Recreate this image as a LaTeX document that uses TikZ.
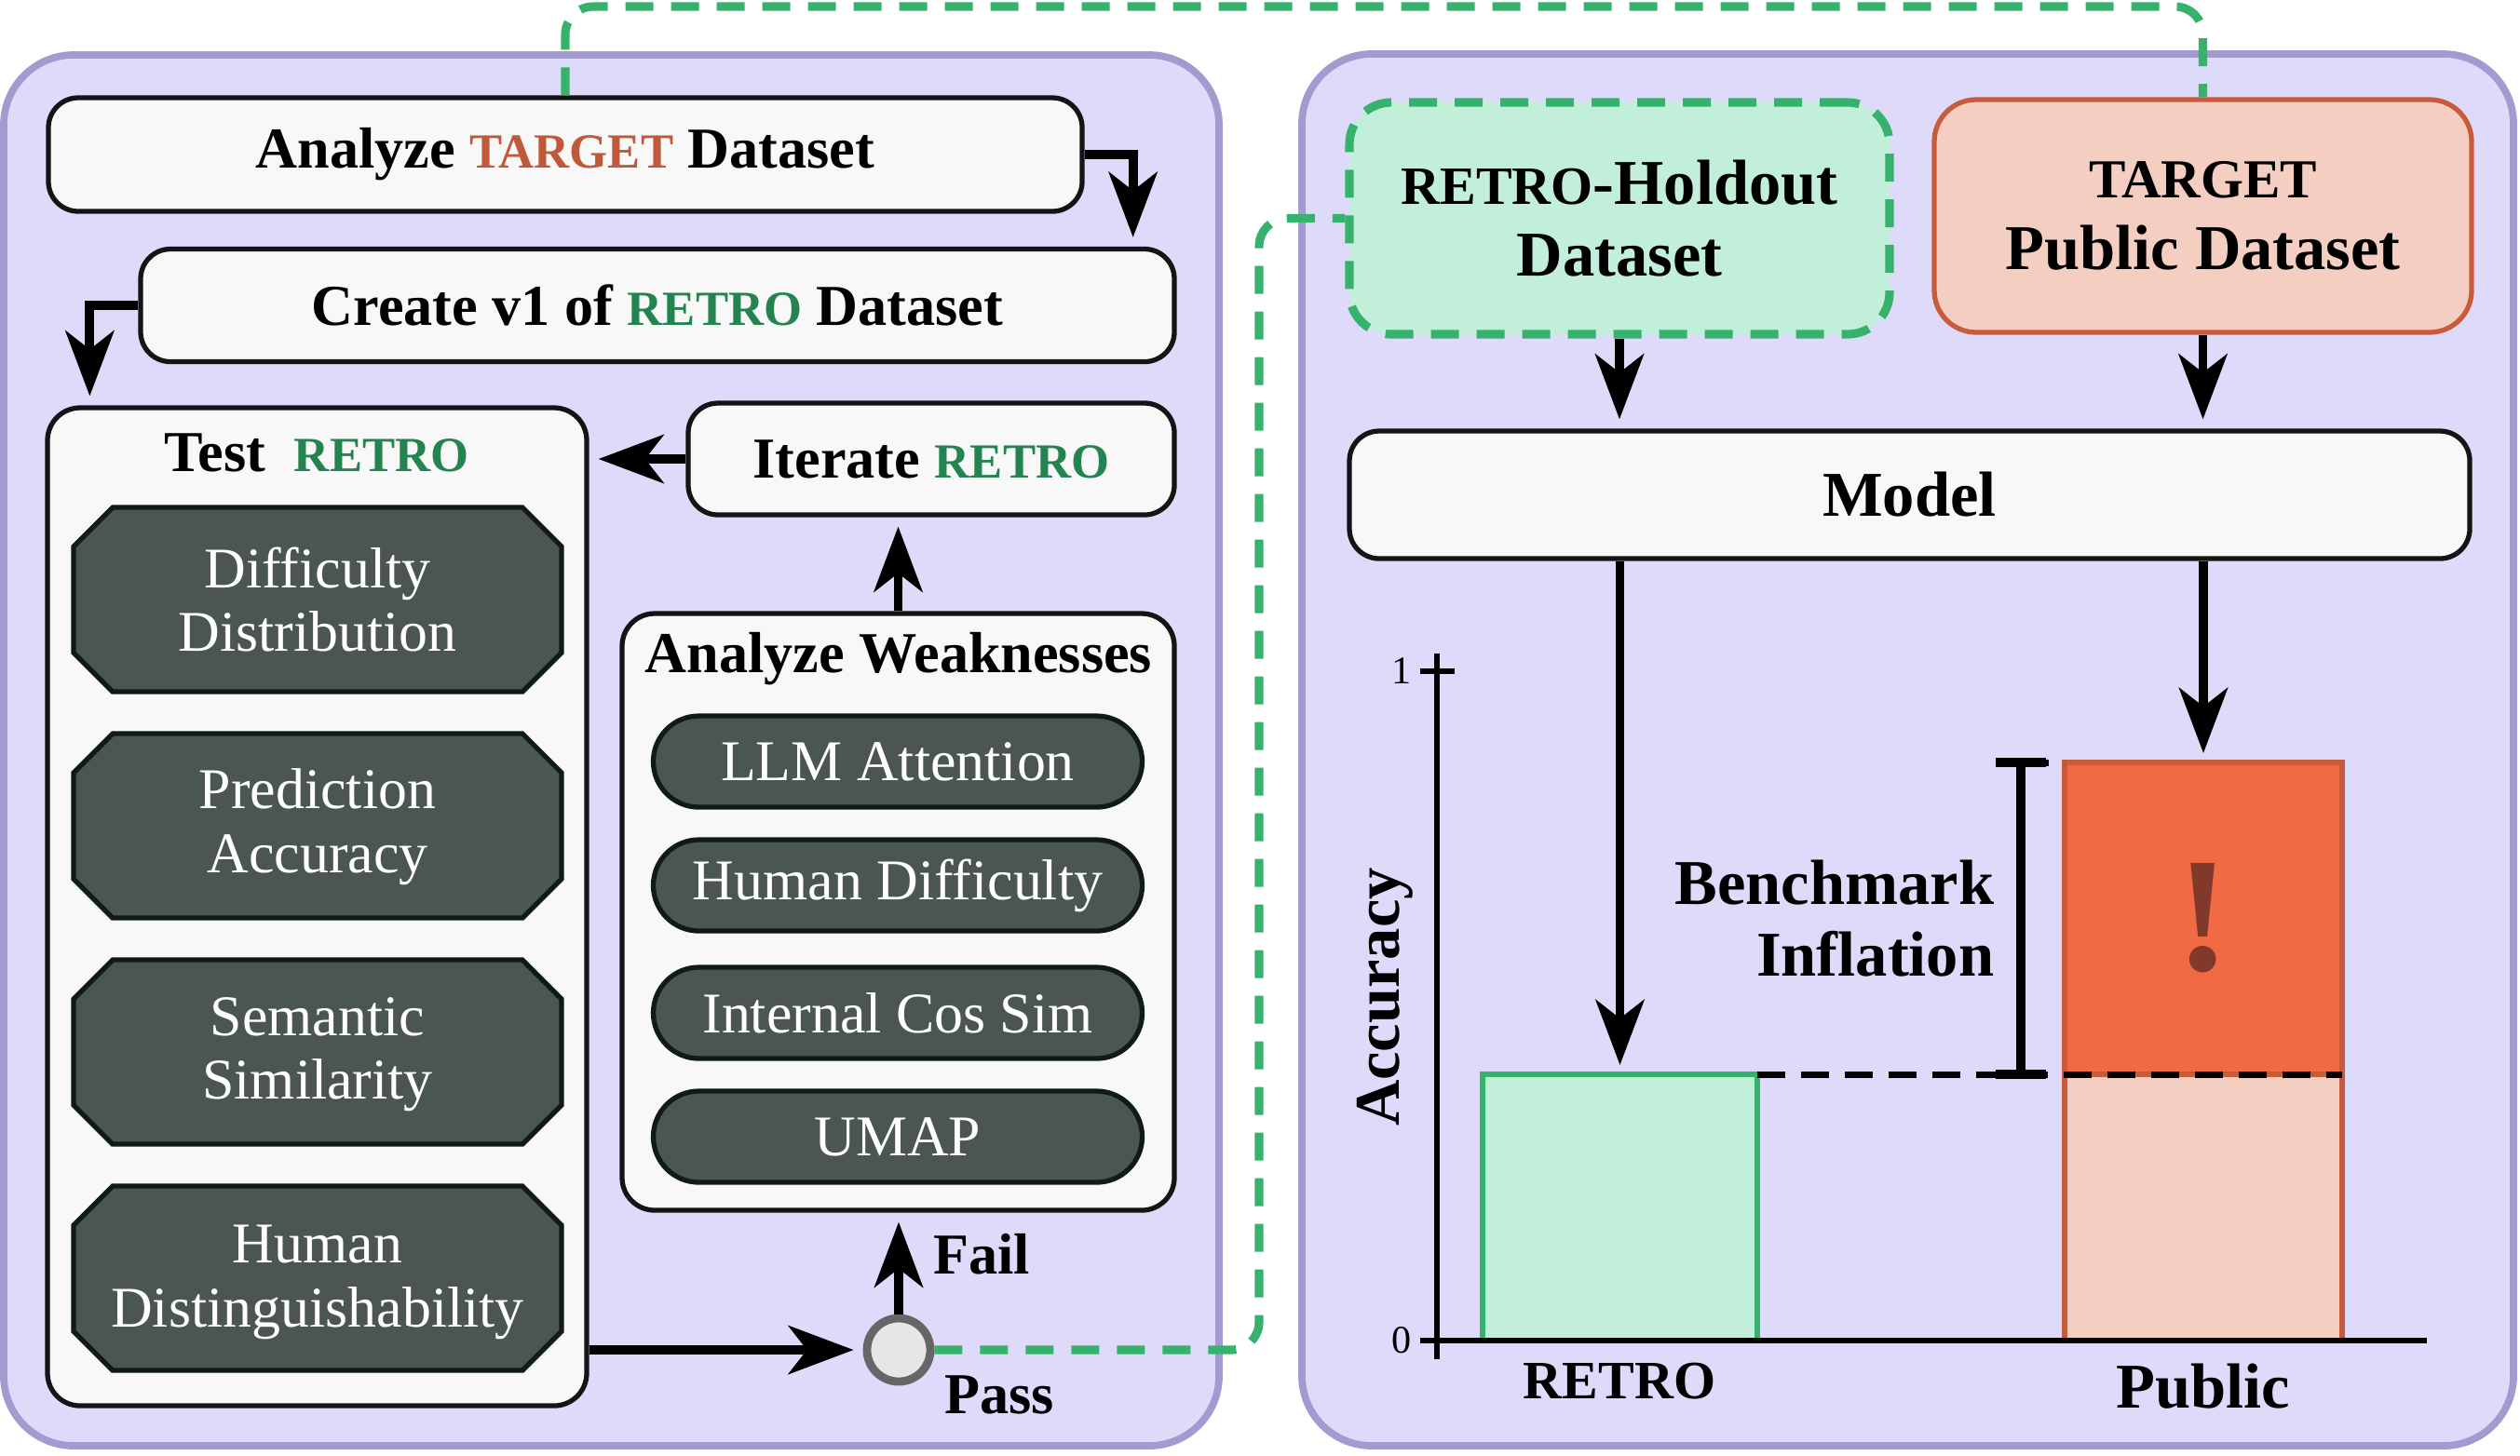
\documentclass[tikz,border=0pt]{standalone}
\usepackage{fontspec}
\setmainfont{Liberation Serif}
\usetikzlibrary{positioning, arrows.meta, calc}

\definecolor{panelfill}{HTML}{DDDAFA}
\definecolor{panelline}{HTML}{A29BD0}
\definecolor{boxfill}{HTML}{F8F8F8}
\definecolor{darkfill}{HTML}{4C5650}
\definecolor{darkline}{HTML}{101B15}
\definecolor{retrogreen}{HTML}{248450}
\definecolor{tgtorange}{HTML}{C0583A}
\definecolor{linkgreen}{HTML}{36B26C}
\definecolor{mint}{HTML}{C2EFD9}
\definecolor{salmon}{HTML}{F5CEC2}
\definecolor{tgtline}{HTML}{C95B3D}
\definecolor{inflfill}{HTML}{F16A43}
\definecolor{bangbrown}{HTML}{80392A}
\definecolor{passfill}{HTML}{E6E6E6}
\definecolor{passline}{HTML}{666666}

\newcommand{\retrosc}[1][retrogreen]{{\color{#1}\fontsize{15}{18}\selectfont RETRO}}
\newcommand{\targetsc}[1][tgtorange]{{\color{#1}\fontsize{15}{18}\selectfont TARGET}}

\begin{document}
\begin{tikzpicture}[
    panel/.style={draw=panelline, fill=panelfill, line width=2.2pt, rounded corners=0.75cm},
    stepbox/.style={draw=black!92, fill=boxfill, line width=1.5pt, rounded corners=0.32cm,
        font=\bfseries\fontsize{17.7}{20}\selectfont},
    holder/.style={draw=black!92, fill=boxfill, line width=1.5pt, rounded corners=0.35cm},
    octoline/.style={draw=darkline, fill=darkfill, line width=1.5pt},
    octotext/.style={text=white, minimum width=5.24cm, minimum height=1.98cm, inner ysep=0pt,
        align=center, font=\fontsize{17.6}{19.5}\selectfont},
    pill/.style={draw=darkline, fill=darkfill, text=white, line width=1.5pt, rounded corners=0.49cm,
        minimum width=5.25cm, minimum height=0.98cm, inner ysep=0pt, font=\fontsize{17.6}{20}\selectfont},
    flow/.style={line width=2.8pt, -{Stealth[length=0.7cm, width=0.52cm, inset=0.2cm]}, shorten >=0.1cm},
    greenlink/.style={draw=linkgreen, line width=2.6pt, dash pattern=on 0.3cm off 0.19cm, rounded corners=0.3cm},
    barbox/.style={line width=1.5pt, inner sep=0pt, outer sep=0pt},
    lbl/.style={font=\bfseries\fontsize{17.7}{20}\selectfont},
    rlbl/.style={font=\bfseries\fontsize{19.5}{22}\selectfont}
]
\useasboundingbox (0,0) rectangle (27.06,-15.63);

% Panels
\draw[panel] (0.04,-0.59) rectangle (13.09,-15.53);
\draw[panel] (13.98,-0.58) rectangle (26.99,-15.53);

% Left: building RETRO
\node[stepbox, minimum width=11.10cm, minimum height=1.22cm] (analyze) at (6.07,-1.66) {Analyze \targetsc{} Dataset};
\node[stepbox, minimum width=11.10cm, minimum height=1.21cm] (create) at (7.06,-3.28) {Create v1 of \retrosc{} Dataset};
\node[stepbox, minimum width=5.22cm, minimum height=1.20cm] (iterate) at (10.00,-4.93) {Iterate \retrosc};

\node[holder, minimum width=5.79cm, minimum height=10.72cm] (test) at (3.405,-9.74) {};
\node[lbl] (testlbl) at (3.40,-4.86) {Test\ \ \retrosc};
% octagons behind the test names
\foreach \cy in {-6.44,-8.87,-11.30,-13.73}
    \draw[octoline] (0.79,\cy+0.57) -- (1.21,\cy+0.99) -- (5.61,\cy+0.99) -- (6.03,\cy+0.57)
        -- (6.03,\cy-0.57) -- (5.61,\cy-0.99) -- (1.21,\cy-0.99) -- (0.79,\cy-0.57) -- cycle;
\node[octotext] (diff) at (3.41,-6.44) {Difficulty\\Distribution};
\node[octotext, below=0.45cm of diff] (pred) {Prediction\\Accuracy};
\node[octotext, below=0.45cm of pred] (sem) {Semantic\\Similarity};
\node[octotext, below=0.45cm of sem] (human) {Human\\Distinguishability};

\node[holder, minimum width=5.93cm, minimum height=6.41cm] (weak) at (9.645,-9.795) {};
\node[lbl] (weaklbl) at (9.65,-7.08) {Analyze Weaknesses};
\node[pill] (llm) at (9.64,-8.18) {LLM Attention};
\node[pill] (hdiff) at (9.64,-9.51) {Human Difficulty};
\node[pill] (cossim) at (9.64,-10.88) {Internal Cos Sim};
\node[pill] (umap) at (9.64,-12.21) {UMAP};

\node[circle, draw=passline, fill=passfill, line width=2.5pt, minimum size=0.68cm, inner sep=0pt] (pass) at (9.65,-14.50) {};
\node[lbl] (faillbl) at (10.54,-13.47) {Fail};
\node[lbl] (passlbl) at (10.73,-14.98) {Pass};

\draw[flow] (analyze.east) -| ([xshift=-0.47cm]create.north east);
\draw[flow] (create.west) -| ([xshift=0.48cm]test.north west);
\draw[flow] (iterate.west) -- (iterate.west -| test.east);
\draw[flow] (weak.north) -- (weak.north |- iterate.south);
\draw[flow] (pass -| test.east) -- (pass.west);
\draw[flow] (pass.north) -- (pass.north |- weak.south);

% Right: evaluation
\node[draw=linkgreen, fill=mint, line width=2.6pt, dash pattern=on 0.3cm off 0.19cm, rounded corners=0.45cm,
    minimum width=5.80cm, minimum height=2.49cm, align=center, rlbl]
    (holdout) at (17.39,-2.345) {{\fontsize{16.5}{18}\selectfont RETRO}-Holdout\\Dataset};
\node[draw=tgtline, fill=salmon, line width=1.5pt, rounded corners=0.45cm,
    minimum width=5.77cm, minimum height=2.50cm, align=center, rlbl]
    (tgt) at (23.655,-2.32) {{\fontsize{16.8}{18}\selectfont TARGET}\\Public Dataset};
\node[stepbox, rlbl, minimum width=12.03cm, minimum height=1.37cm] (model) at (20.505,-5.315) {Model};

\draw[flow] (holdout.south) -- (holdout.south |- model.north);
\draw[flow] (tgt.south) -- (tgt.south |- model.north);

% Chart
\node[barbox, draw=linkgreen, fill=mint, minimum width=2.95cm, minimum height=2.86cm, anchor=south west] (retrobar) at (15.92,-14.40) {};
\node[barbox, draw=tgtline, fill=salmon, minimum width=2.98cm, minimum height=2.86cm, anchor=south west] (pubbar) at (22.17,-14.40) {};
\node[barbox, draw=tgtline, fill=inflfill, minimum width=2.98cm, minimum height=3.35cm, anchor=south] (infl) at (pubbar.north) {};
\node[font=\bfseries\fontsize{50}{50}\selectfont, text=bangbrown] (bang) at (infl.center) {!};

\coordinate (origin) at (15.43,-14.40);
\draw[line width=1.8pt] (15.43,-14.60) -- (15.43,-7.02);
\draw[line width=1.8pt] (15.25,-14.40) -- (26.06,-14.40);
\draw[line width=1.8pt] (15.25,-7.21) -- (15.62,-7.21);
\node[font=\fontsize{12}{12}\selectfont] (one) at (15.05,-7.21) {1};
\node[font=\fontsize{12}{12}\selectfont] (zero) at (15.05,-14.40) {0};

\draw[flow] (model.south -| retrobar.north) -- (retrobar.north);
\draw[flow] (model.south -| infl.north) -- (infl.north);

\draw[line width=2pt, dash pattern=on 0.3cm off 0.17cm] (retrobar.north east) -- (pubbar.north east);
\draw[line width=2pt, dash pattern=on 0.3cm off 0.17cm] ([xshift=-0.47cm]infl.north west) -- (infl.north west);
\draw[line width=2.8pt] ([xshift=-0.47cm]infl.north west) coordinate (errtop) -- ([xshift=-0.47cm]infl.south west) coordinate (errbot);
\draw[line width=2.8pt] ([xshift=-0.27cm]errtop) -- ([xshift=0.27cm]errtop);
\draw[line width=2.8pt] ([xshift=-0.27cm]errbot) -- ([xshift=0.27cm]errbot);
\node[rlbl, align=right, anchor=east, inner sep=0pt] (bench) at ([xshift=-0.28cm]$(errtop)!0.5!(errbot)$) {Benchmark\\Inflation};

\node[rlbl, rotate=90] (acc) at (14.87,-10.71) {Accuracy};
\node[font=\bfseries\fontsize{16.5}{16}\selectfont] (retrolbl) at (17.39,-14.84) {RETRO};
\node[rlbl] (publbl) at (23.66,-14.89) {Public};

% Links between panels
\coordinate (ridge) at (0,-0.07);
\coordinate (gap) at (13.52,-8);
\draw[greenlink] (analyze.north) |- (tgt.north |- ridge) -- (tgt.north);
\draw[greenlink] (pass.east) -| (gap) |- (holdout.west);
\end{tikzpicture}
\end{document}
